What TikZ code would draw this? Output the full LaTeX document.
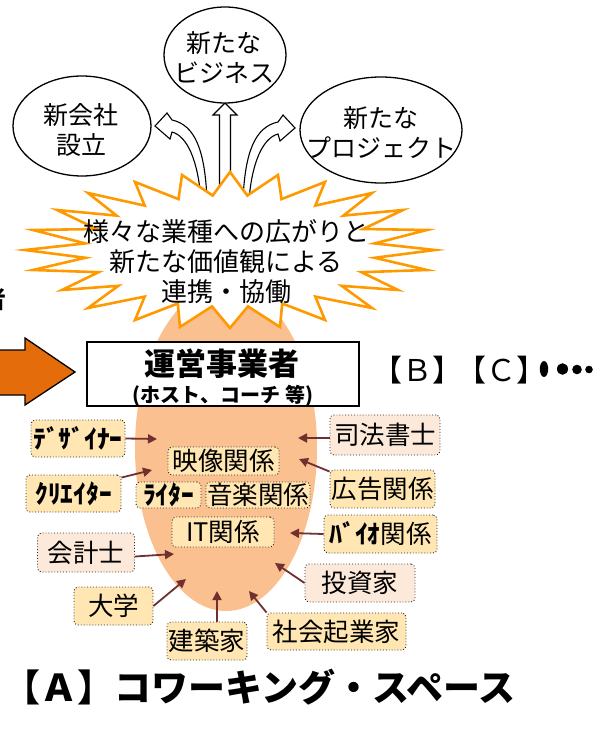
\documentclass[tikz,border=0pt]{standalone}
\usepackage{fontspec}
\setmainfont{Noto Sans CJK JP}
\usetikzlibrary{arrows.meta,calc,shapes.geometric}
\definecolor{lorange}{RGB}{250,192,143}
\definecolor{starorange}{RGB}{255,153,0}
\definecolor{darkorange}{RGB}{228,108,10}
\definecolor{yel}{RGB}{255,230,178}
\definecolor{pnk}{RGB}{253,233,218}
\definecolor{brn}{RGB}{112,48,48}
\newcommand\fsz[2]{\fontsize{#1}{#2}\selectfont}
\begin{document}
\begin{tikzpicture}[x=1pt,y=-1pt,
  bub/.style={ellipse, draw=black, line width=1.3pt, fill=white, inner sep=0pt},
  hollow/.style={draw=black, line width=1.1pt, fill=white, line join=miter},
  yb/.style={draw=black!85, dotted, line width=0.9pt, rounded corners=4pt, fill=yel, inner sep=0pt, font=\fsz{25.5}{27}},
  pb/.style={yb, fill=pnk},
  conn/.style={draw=brn, line width=1.8pt, -{Triangle[length=9pt,width=9pt]}},
  txt/.style={inner sep=0pt, align=center}]
\useasboundingbox (0,0) rectangle (606,738);

% orange space ellipse
\node[ellipse, fill=lorange, minimum width=182pt, minimum height=326pt, inner sep=0pt] (space) at (226,448) {};

% hollow arrows
\draw[hollow] (207,200) .. controls (205,150) and (195,125) .. (172,120) -- (167,113) -- (155,126) -- (170,139) -- (172,132) .. controls (187,136) and (198,160) .. (201,200) -- cycle;
\draw[hollow] (243,200) .. controls (245,152) and (255,127) .. (278,122) -- (283,115) -- (295,128) -- (280,141) -- (278,134) .. controls (263,138) and (252,162) .. (249,200) -- cycle;
\draw[hollow] (219.5,200) -- (219.5,115) -- (213,115) -- (225,103) -- (237,115) -- (230.5,115) -- (230.5,200) -- cycle;

% starburst
\draw[draw=starorange, fill=white, line width=2.6pt, line join=miter]
 (135,182) -- (178.5,199.1) -- (182,175) -- (212.7,195.5) -- (230,172) -- (247.3,195.5) -- (278,175) -- (281.5,199.1) -- (325,182) -- (315.3,205.6) -- (372,193) -- (343.4,215.6) -- (403,210) -- (363.2,229) -- (427,230) -- (374.7,243.4) -- (435,250) -- (374.7,257.8) -- (427,270) -- (361.4,272.2) -- (398,290) -- (341.6,285.8) -- (372,308) -- (315.3,296.6) -- (325,320) -- (282.2,303.5) -- (280,327) -- (248,306.4) -- (230,328) -- (212,306.4) -- (180,327) -- (177.8,303.5) -- (135,320) -- (144.7,296.6) -- (88,308) -- (118.4,285.8) -- (62,290) -- (98.6,272.2) -- (33,270) -- (85.3,257.8) -- (25,250) -- (85.3,243.4) -- (33,230) -- (96.8,229) -- (57,210) -- (116.6,215.6) -- (88,193) -- (144.7,205.6) -- cycle;
\node[txt, font=\fsz{26}{30}] (startext) at (226,262) {様々な業種への広がりと\\新たな価値観による\\連携・協働};

% bubbles
\node[bub, minimum width=138pt, minimum height=100pt] (b1) at (82,126) {};
\node[txt, font=\fsz{25}{30}] (b1t) at (81,130) {新会社\\設立};
\node[bub, minimum width=122pt, minimum height=96pt] (b2) at (225,55) {};
\node[txt, font=\fsz{25}{30}] (b2t) at (224,58) {新たな\\ビジネス};
\node[bub, minimum width=162pt, minimum height=106pt] (b3) at (381,130) {};
\node[txt, font=\fsz{25}{30}] (b3t) at (381,132.5) {新たな\\プロジェクト};

% left cut text and big orange arrow
\node[anchor=east, inner sep=0pt, font=\bfseries\fsz{24}{24}] (cut) at (7,299) {者};
\draw[fill=darkorange, line width=1.3pt, line join=miter] (-20,350) -- (25,350) -- (25,338) -- (75,372) -- (25,405) -- (25,395) -- (-20,395) -- cycle;

% operator box
\node[draw=black, line width=1.6pt, fill=white, minimum width=272pt, minimum height=64pt, inner sep=0pt] (unei) at (223,374) {};
\node[txt, font=\bfseries\fsz{31}{31}] (uneit) at (222,364) {運営事業者};
\node[txt, font=\bfseries\fsz{20}{20}] (uneis) at (223,396) {(ホスト、コーチ 等)};

% B C
\node[anchor=west, inner sep=0pt, font=\fsz{30}{30}] (bc) at (372,370) {【Ｂ】\kern-6pt【Ｃ】};
\fill (544,369) ellipse [x radius=4.2pt, y radius=8pt];
\fill (562.5,369) ellipse [x radius=5.5pt, y radius=5.8pt];
\fill (577,369.5) ellipse [x radius=4.8pt, y radius=4.8pt];
\fill (589,369.5) ellipse [x radius=3.8pt, y radius=3.8pt];

% member boxes
\node[yb, minimum width=94pt, minimum height=37pt] (dez) at (78,438.5) {\bfseries ﾃﾞｻﾞｲﾅｰ};
\node[yb, minimum width=95pt, minimum height=37pt] (kuri) at (73.5,493.5) {\bfseries ｸﾘｴｲﾀｰ};
\node[yb, minimum width=111pt, minimum height=28pt] (eizo) at (223.5,461) {映像関係};
\node[yb, minimum width=65pt, minimum height=26pt] (raita) at (168.5,495) {\bfseries ﾗｲﾀｰ};
\node[yb, minimum width=104pt, minimum height=26pt] (ongaku) at (258,495) {音楽関係};
\node[yb, minimum width=102pt, minimum height=30pt] (it) at (223,532) {IT関係};
\node[pb, minimum width=97pt, minimum height=39pt] (kaikei) at (86,552.5) {会計士};
\node[yb, minimum width=79pt, minimum height=38pt] (daigaku) at (113.5,606) {大学};
\node[yb, minimum width=80pt, minimum height=38pt] (kenchiku) at (207,641) {建築家};
\node[yb, minimum width=139pt, minimum height=37pt] (shakai) at (336.5,631.5) {社会起業家};
\node[pb, minimum width=110pt, minimum height=38pt] (toushi) at (360,583) {投資家};
\node[yb, minimum width=113pt, minimum height=38pt] (bio) at (380.5,534) {{\bfseries ﾊﾞｲｵ}関係};
\node[yb, minimum width=105pt, minimum height=38pt] (koukoku) at (382.5,489) {広告関係};
\node[pb, minimum width=110pt, minimum height=40pt] (shihou) at (385,435) {司法書士};

% arrow targets
\coordinate (tdez) at (157,439);
\coordinate (tkuri) at (152,470);
\coordinate (tkaikei) at (174,554);
\coordinate (tdaigaku) at (186,579);
\coordinate (tkenchiku) at (217,591);
\coordinate (tshakai) at (249,591);
\coordinate (ttoushi) at (275,563);
\coordinate (tbio) at (290,533);
\coordinate (tkoukoku) at (299,459);
\coordinate (tshihou) at (298,438);

\draw[conn] (dez.east) -- (tdez);
\draw[conn] ($(kuri.north east)+(0,3)$) -- (tkuri);
\draw[conn] ($(kaikei.east)+(0,4)$) -- (tkaikei);
\draw[conn] (daigaku.east) -- (tdaigaku);
\draw[conn] ($(kenchiku.north)+(10,0)$) -- (tkenchiku);
\draw[conn] (shakai.north west) -- (tshakai);
\draw[conn] (toushi.west) -- (ttoushi);
\draw[conn] (bio.west) -- (tbio);
\draw[conn] ($(koukoku.north west)+(0,2)$) -- (tkoukoku);
\draw[conn] ($(shihou.west)+(0,3)$) -- (tshihou);

% title
\node[anchor=west, inner sep=0pt, font=\bfseries\fsz{37}{37}] (title) at (3,687) {【Ａ】コワーキング・スペース};
\end{tikzpicture}
\end{document}
